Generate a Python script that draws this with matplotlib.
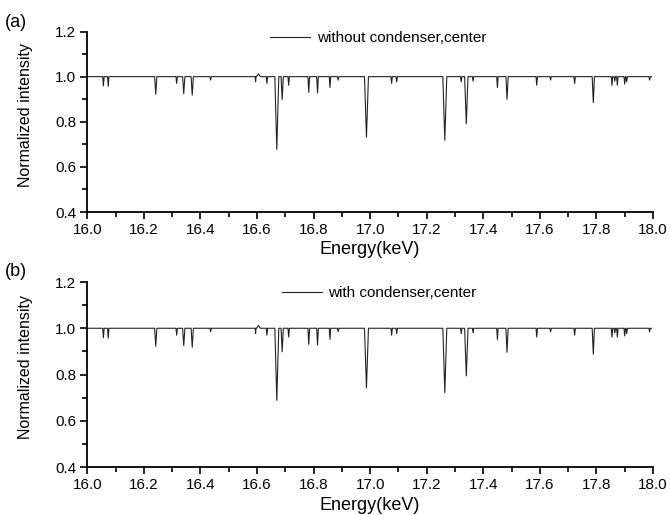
import matplotlib
matplotlib.use("Agg")
import matplotlib.pyplot as plt
from matplotlib.ticker import MultipleLocator

plt.rcParams["font.family"] = ["Liberation Sans", "DejaVu Sans"]

# absorption lines: centre (keV), minimum intensity, half width (keV)
line_center = [16.057, 16.074, 16.242, 16.316, 16.341, 16.371, 16.436, 16.595, 16.605,
               16.635, 16.670, 16.689, 16.712, 16.783, 16.814, 16.858, 16.887, 16.987,
               17.076, 17.094, 17.264, 17.322, 17.340, 17.364, 17.450, 17.484, 17.589,
               17.638, 17.723, 17.789, 17.855, 17.865, 17.874, 17.900, 17.907, 17.988]
line_min_a = [0.959, 0.957, 0.922, 0.970, 0.925, 0.918, 0.985, 0.977, 1.012,
              0.970, 0.678, 0.899, 0.962, 0.930, 0.928, 0.952, 0.985, 0.732,
              0.970, 0.977, 0.718, 0.977, 0.792, 0.980, 0.952, 0.899, 0.962,
              0.985, 0.970, 0.885, 0.962, 0.980, 0.962, 0.967, 0.977, 0.985]
line_min_b = [0.959, 0.957, 0.922, 0.970, 0.925, 0.918, 0.985, 0.977, 1.012,
              0.970, 0.688, 0.898, 0.962, 0.930, 0.928, 0.952, 0.985, 0.742,
              0.970, 0.977, 0.722, 0.977, 0.794, 0.980, 0.952, 0.896, 0.962,
              0.985, 0.970, 0.888, 0.962, 0.980, 0.962, 0.967, 0.977, 0.985]
line_hw = [0.0025, 0.0025, 0.004, 0.0025, 0.004, 0.004, 0.0025, 0.0015, 0.007,
           0.0025, 0.007, 0.004, 0.0025, 0.003, 0.003, 0.0025, 0.0025, 0.007,
           0.0025, 0.0025, 0.007, 0.0025, 0.006, 0.0025, 0.0025, 0.004, 0.0025,
           0.0025, 0.0025, 0.004, 0.0025, 0.0025, 0.0025, 0.0025, 0.0025, 0.0025]
e_start, e_end = 16.0, 17.995

panels = [("(a)", "without condenser,center", line_min_a),
          ("(b)", "with condenser,center", line_min_b)]


def spectrum(mins):
    """Polyline vertices: flat baseline with a V at every line."""
    xs, ys = [e_start], [1.0]
    for c, m, w in zip(line_center, mins, line_hw):
        xs += [c - w, c, c + w]
        ys += [1.0, m, 1.0]
    xs.append(e_end)
    ys.append(1.0)
    return xs, ys


fig = plt.figure(figsize=(6.7, 5.15), dpi=100)
rects = [(0.1303, 0.5883, 0.8443, 0.3505), (0.1303, 0.0932, 0.8443, 0.3592)]
leg_pos = [(0.323, 0.964), (0.344, 0.9405)]
tag_y = [0.957, 0.472]

for (tag, name, mins), rect, lp, ty in zip(panels, rects, leg_pos, tag_y):
    ax = fig.add_axes(rect)
    x, y = spectrum(mins)
    ax.plot(x, y, color="#222222", lw=0.8, label=name)
    ax.set_xlim(16.0, 18.0)
    ax.set_ylim(0.4, 1.2)
    ax.xaxis.set_major_locator(MultipleLocator(0.2))
    ax.xaxis.set_minor_locator(MultipleLocator(0.1))
    ax.yaxis.set_major_locator(MultipleLocator(0.2))
    ax.yaxis.set_minor_locator(MultipleLocator(0.1))
    ax.xaxis.set_major_formatter(lambda v, p: f"{v:.1f}")
    ax.yaxis.set_major_formatter(lambda v, p: f"{v:.1f}")
    for s in ("top", "right"):
        ax.spines[s].set_visible(False)
    for s in ("left", "bottom"):
        ax.spines[s].set_linewidth(1.3)
    ax.tick_params(which="major", direction="out", length=5, width=1.2, labelsize=11, pad=3)
    ax.tick_params(which="minor", direction="out", length=3.3, width=1.2)
    ax.set_xlabel("Energy(keV)", fontsize=13)
    ax.set_ylabel("Normalized intensity", fontsize=11.5)
    ax.xaxis.set_label_coords(0.5, -0.16)
    ax.yaxis.set_label_coords(-0.096, 0.54)
    ax.legend(loc="center left", bbox_to_anchor=lp, frameon=False, fontsize=11,
              handlelength=2.6, handletextpad=0.45, borderpad=0, borderaxespad=0)
    fig.text(0.008, ty, tag, fontsize=13, va="center", ha="left")

fig.savefig("out.png", dpi=100)
